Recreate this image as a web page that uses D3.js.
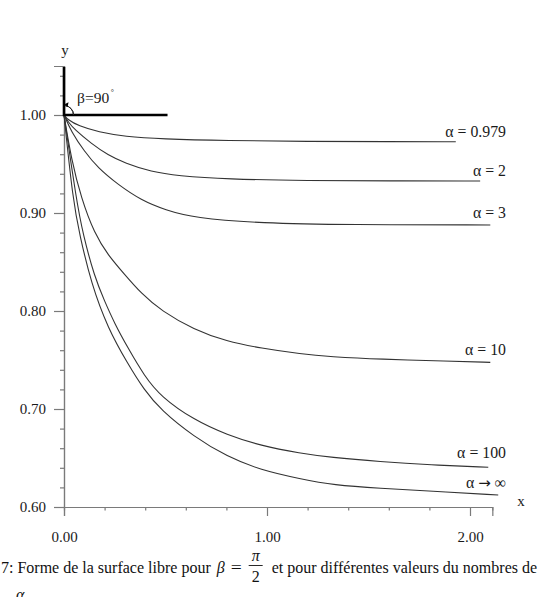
<!DOCTYPE html>
<html>
<head>
<meta charset="utf-8">
<script src="https://cdn.jsdelivr.net/npm/d3@7"></script>
<style>
  html, body { margin: 0; padding: 0; background: #fff; overflow: hidden; }
  svg { display: block; font-family: "Liberation Serif", "DejaVu Serif", serif; }
</style>
</head>
<body>
<svg id="chart" width="537" height="597"></svg>
<script>
// ---- data ----
const seriesLabels = ["α = 0.979", "α = 2", "α = 3", "α = 10", "α = 100", "α → ∞"];

const xA0979 = [0, 0.02, 0.07, 0.17, 0.3, 0.48, 0.8, 1.2, 1.6, 1.93];
const yA0979 = [1, 0.995, 0.989, 0.9825, 0.978, 0.9755, 0.9738, 0.973, 0.9728, 0.9727];

const xA2 = [0, 0.02, 0.053, 0.134, 0.217, 0.3, 0.43, 0.56, 0.8, 1.2, 1.6, 2.05];
const yA2 = [1, 0.993, 0.985, 0.971, 0.959, 0.951, 0.942, 0.938, 0.9345, 0.933, 0.9328, 0.9327];

const xA3 = [0, 0.036, 0.1, 0.167, 0.266, 0.38, 0.5, 0.64, 0.97, 1.4, 2.1];
const yA3 = [1, 0.983, 0.963, 0.946, 0.929, 0.913, 0.903, 0.895, 0.8895, 0.888, 0.8878];

const xA10 = [0, 0.036, 0.085, 0.15, 0.217, 0.3, 0.38, 0.48, 0.64, 0.8, 0.97, 1.17, 1.31, 1.56, 1.89, 2.1];
const yA10 = [1, 0.955, 0.915, 0.879, 0.857, 0.837, 0.818, 0.8, 0.781, 0.769, 0.762, 0.756, 0.7534, 0.7507, 0.749, 0.7476];

const xA100 = [0, 0.061, 0.094, 0.15, 0.2, 0.25, 0.313, 0.395, 0.477, 0.64, 0.804, 0.968, 1.165, 1.312, 1.558, 1.803, 2.09];
const yA100 = [1, 0.913, 0.878, 0.835, 0.81, 0.787, 0.763, 0.734, 0.7126, 0.6888, 0.6735, 0.6626, 0.6548, 0.6507, 0.6462, 0.6429, 0.6405];

const xAinf = [0, 0.044, 0.077, 0.134, 0.217, 0.313, 0.395, 0.477, 0.64, 0.804, 0.968, 1.165, 1.328, 1.558, 1.803, 2.139];
const yAinf = [1, 0.913, 0.878, 0.828, 0.782, 0.7466, 0.7194, 0.699, 0.6717, 0.6513, 0.6378, 0.6286, 0.6224, 0.619, 0.6163, 0.6122];

const xMajorTicks = [0, 1, 2];
const xMinorTicks = [0.2, 0.4, 0.6, 0.8, 1.2, 1.4, 1.6, 1.8];
const yMajorTicks = [0.6, 0.7, 0.8, 0.9, 1.0];
const yMinorTicks = [0.62, 0.64, 0.66, 0.68, 0.72, 0.74, 0.76, 0.78, 0.82, 0.84, 0.86, 0.88, 0.92, 0.94, 0.96, 0.98, 1.02, 1.04];

const wallX = [0, 0, 0.51];
const wallY = [1.049, 1, 1];

// ---- build ----
const seriesX = [xA0979, xA2, xA3, xA10, xA100, xAinf];
const seriesY = [yA0979, yA2, yA3, yA10, yA100, yAinf];
const series = seriesX.map((xs, i) => xs.map((xv, j) => [xv, seriesY[i][j]]));

const svg = d3.select("#chart");
const x = d3.scaleLinear().domain([0, 2.11]).range([64, 64 + 2.11 * 203]);
const y = d3.scaleLinear().domain([0.6, 1.05]).range([507, 507 - 0.45 * 980]);

const axisColor = "#7a7a7a";
const textColor = "#1a1a1a";

// y axis
const gy = svg.append("g").attr("transform", `translate(${x(0)},0)`);
gy.call(d3.axisLeft(y).tickValues(yMinorTicks).tickSize(4).tickFormat(""));
const gyMaj = svg.append("g").attr("transform", `translate(${x(0)},0)`);
gyMaj.call(d3.axisLeft(y).tickValues(yMajorTicks).tickSize(10).tickPadding(8).tickFormat(d3.format(".2f")));

// x axis
const gx = svg.append("g").attr("transform", `translate(0,${y(0.6)})`);
gx.call(d3.axisBottom(x).tickValues(xMinorTicks).tickSize(3.5).tickFormat(""));
const gxMaj = svg.append("g").attr("transform", `translate(0,${y(0.6)})`);
gxMaj.call(d3.axisBottom(x).tickValues(xMajorTicks).tickSize(9).tickPadding(15).tickFormat(d3.format(".2f")));

svg.selectAll(".domain").attr("stroke", axisColor).attr("stroke-width", 1.2);
svg.selectAll(".tick line").attr("stroke", axisColor).attr("stroke-width", 1.2);
svg.selectAll(".tick text")
  .attr("fill", textColor)
  .style("font-family", "'Liberation Serif', serif")
  .style("font-size", "15px");

// axis names
svg.append("text").attr("x", x(0) + 1).attr("y", 55).attr("text-anchor", "middle")
  .attr("fill", textColor).style("font-size", "15px").text("y");
svg.append("text").attr("x", 521).attr("y", 506).attr("text-anchor", "middle")
  .attr("fill", textColor).style("font-size", "15px").text("x");

// curves
const line = d3.line().x(d => x(d[0])).y(d => y(d[1])).curve(d3.curveBasis);
svg.append("g").selectAll("path").data(series).join("path")
  .attr("d", line)
  .attr("fill", "none")
  .attr("stroke", "#333")
  .attr("stroke-width", 1.1);

// curve labels
const labelDy = [-5, -5, -7, -7, -9, -7];
const labels = svg.append("g").selectAll("text").data(series).join("text")
  .attr("x", 506)
  .attr("y", (d, i) => y(d[d.length - 1][1]) + labelDy[i])
  .attr("text-anchor", "end")
  .attr("fill", textColor)
  .style("white-space", "pre")
  .style("font-size", "15.8px");
labels.each(function (d, i) {
  const parts = seriesLabels[i].split(" ");
  const el = d3.select(this);
  parts.forEach((p, k) => {
    const ts = el.append("tspan").text(p);
    if (k > 0) ts.attr("dx", 4);
    if (p === "→") ts.style("font-family", "'DejaVu Sans', sans-serif").style("font-size", "15px");
  });
});

// wall (thick)
const wall = wallX.map((v, i) => [v, wallY[i]]);
svg.append("path")
  .attr("d", d3.line().x(d => x(d[0])).y(d => y(d[1]))(wall))
  .attr("fill", "none").attr("stroke", "#000").attr("stroke-width", 2.6);

// angle arc with arrow
const cx = x(0), cy = y(1), r = 9.5;
const arc = d3.arc().innerRadius(r).outerRadius(r).startAngle(0.12).endAngle(Math.PI / 2);
svg.append("path").attr("d", arc()).attr("transform", `translate(${cx},${cy})`)
  .attr("fill", "none").attr("stroke", "#222").attr("stroke-width", 1);
svg.append("path")
  .attr("d", `M${cx + 0.6},${cy - r - 1.2} L${cx + 4.5},${cy - r - 3.2} L${cx + 3.6},${cy - r + 1.6} Z`)
  .attr("fill", "#000");

const beta = svg.append("text").attr("x", 77).attr("y", 103).attr("fill", textColor).style("font-size", "15.5px");
beta.append("tspan").text("β=90");
beta.append("tspan").attr("dy", -8).attr("dx", 1.5).style("font-size", "8px").text("°");

// caption
const capSize = "16px";
const cap = svg.append("g").attr("fill", "#111").style("font-size", capSize);
const t1 = cap.append("text").attr("x", 1).attr("y", 573).text("7: Forme de la surface libre pour");
let cx2 = 1 + t1.node().getComputedTextLength() + 6;
const tb = cap.append("text").attr("x", cx2).attr("y", 573).style("font-style", "italic").text("β");
cx2 += tb.node().getComputedTextLength() + 6;
cap.append("text").attr("x", cx2).attr("y", 573).attr("textLength", 11).attr("lengthAdjust", "spacingAndGlyphs").text("=");
cx2 += 11 + 7;
const fracC = cx2 + 7;
cap.append("text").attr("x", fracC).attr("y", 561).attr("text-anchor", "middle").style("font-style", "italic").text("π");
cap.append("line").attr("x1", fracC - 7).attr("x2", fracC + 7).attr("y1", 565.5).attr("y2", 565.5).attr("stroke", "#111").attr("stroke-width", 0.9);
cap.append("text").attr("x", fracC).attr("y", 582).attr("text-anchor", "middle").text("2");
cap.append("text").attr("x", fracC + 16).attr("y", 573).text("et pour différentes valeurs du nombres de");
cap.append("text").attr("x", 16).attr("y", 600).style("font-style", "italic").text("α.");
</script>
</body>
</html>
